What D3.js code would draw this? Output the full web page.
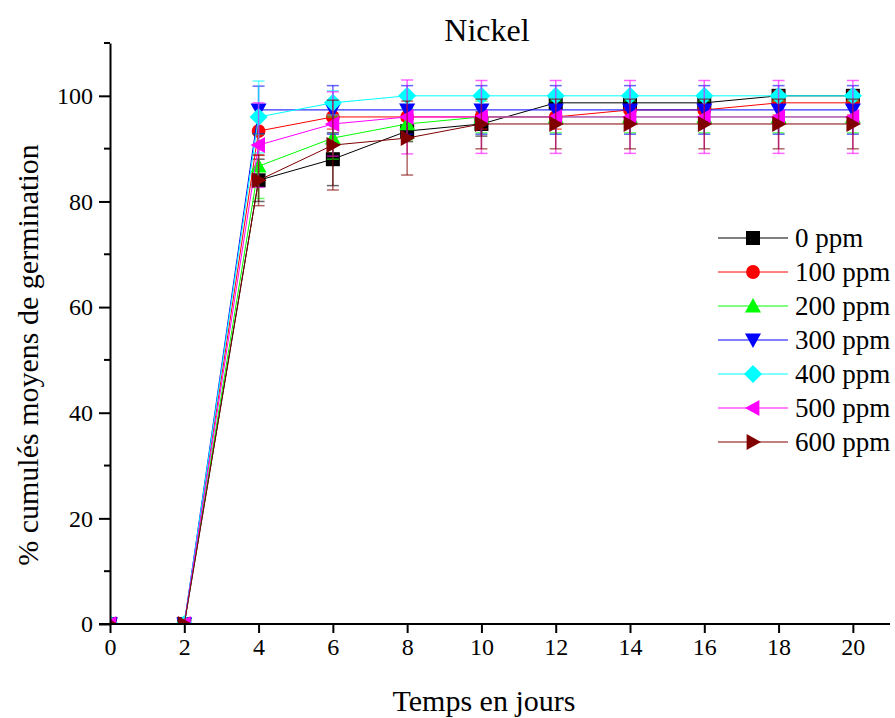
<!DOCTYPE html>
<html>
<head>
<meta charset="utf-8">
<script src="https://cdn.jsdelivr.net/npm/d3@7"></script>
<style>
  body { margin: 0; background: #fff; }
  text { font-family: "Liberation Serif", "Times New Roman", serif; }
</style>
</head>
<body>
<script>
// jours d'observation
var days = [0, 2, 4, 6, 8, 10, 12, 14, 16, 18, 20];

// concentrations en nickel
var labels = ["0 ppm", "100 ppm", "200 ppm", "300 ppm", "400 ppm", "500 ppm", "600 ppm"];
var colors = ["#000000", "#ff0000", "#00ff00", "#0000ff", "#00ffff", "#ff00ff", "#800000"];
var shapes = ["square", "circle", "up", "down", "diamond", "left", "right"];

// % cumulés moyens de germination
var ppm0   = [0, 0, 84,    88,    93.33, 94.67, 98.67, 98.67, 98.67, 100,   100];
var ppm100 = [0, 0, 93.33, 96,    96,    96,    96,    97.33, 97.33, 98.67, 98.67];
var ppm200 = [0, 0, 86.67, 92,    94.67, 96,    96,    96,    96,    96,    96];
var ppm300 = [0, 0, 97.33, 97.33, 97.33, 97.33, 97.33, 97.33, 97.33, 97.33, 97.33];
var ppm400 = [0, 0, 96,    98.67, 100,   100,   100,   100,   100,   100,   100];
var ppm500 = [0, 0, 90.67, 94.67, 96,    96,    96,    96,    96,    96,    96];
var ppm600 = [0, 0, 84,    90.67, 92,    94.67, 94.67, 94.67, 94.67, 94.67, 94.67];

// écarts-types (barres d'erreur)
var err0   = [0, 0, 4,   5,   2,   2.3, 1.3, 1.3, 1.3, 0,   0];
var err100 = [0, 0, 4.6, 2.3, 2.3, 2.3, 2.3, 2.3, 2.3, 2.3, 2.3];
var err200 = [0, 0, 6.1, 4,   3,   3,   3,   3,   3,   3,   3];
var err300 = [0, 0, 4.5, 4.6, 4.6, 4.6, 4.6, 4.6, 4.6, 4.6, 4.6];
var err400 = [0, 0, 6.8, 2.3, 0,   0,   0,   0,   0,   0,   0];
var err500 = [0, 0, 8,   6.1, 7,   6.9, 6.9, 6.9, 6.9, 6.9, 6.9];
var err600 = [0, 0, 4.8, 8.5, 7,   4.7, 4.7, 4.7, 4.7, 4.7, 4.7];

var xTicks = [0, 2, 4, 6, 8, 10, 12, 14, 16, 18, 20];
var yTicks = [0, 20, 40, 60, 80, 100];
var yMinor = [10, 30, 50, 70, 90, 110];

var series = [ppm0, ppm100, ppm200, ppm300, ppm400, ppm500, ppm600];
var errors = [err0, err100, err200, err300, err400, err500, err600];

var W = 895, H = 718;
var margin = {top: 43, right: 5, bottom: 94, left: 110};
var FONT = "'Liberation Serif', 'Times New Roman', serif";

var x = d3.scaleLinear().domain([0, 21]).range([margin.left, W - margin.right]);
var y = d3.scaleLinear().domain([0, 110]).range([H - margin.bottom, margin.top]);

var svg = d3.select("body").append("svg")
    .attr("width", W)
    .attr("height", H)
    .attr("font-family", FONT);

svg.append("defs").append("clipPath").attr("id", "plot")
  .append("rect")
    .attr("x", margin.left).attr("y", margin.top - 20)
    .attr("width", W - margin.left).attr("height", y(0) - margin.top + 20);

// marker symbols
function symbolPath(shape) {
  var s = 8;
  switch (shape) {
    case "square": return "M-7,-7h14v14h-14z";
    case "circle": return d3.symbol(d3.symbolCircle, 150)();
    case "up": return "M0," + (-s) + "L" + s + "," + s * 0.8 + "L" + (-s) + "," + s * 0.8 + "Z";
    case "down": return "M0," + s + "L" + s + "," + (-s * 0.8) + "L" + (-s) + "," + (-s * 0.8) + "Z";
    case "diamond": return "M0," + (-s - 1) + "L" + (s + 1) + ",0L0," + (s + 1) + "L" + (-s - 1) + ",0Z";
    case "left": return "M" + (-s) + ",0L" + s * 0.8 + "," + (-s) + "L" + s * 0.8 + "," + s + "Z";
    case "right": return "M" + s + ",0L" + (-s * 0.8) + "," + (-s) + "L" + (-s * 0.8) + "," + s + "Z";
  }
}

var plot = svg.append("g").attr("clip-path", "url(#plot)");

var line = d3.line()
  .x(function(d) { return x(d[0]); })
  .y(function(d) { return y(d[1]); });

series.forEach(function(vals, k) {
  var pts = days.map(function(d, i) { return [d, vals[i], errors[k][i]]; });
  var g = plot.append("g");

  g.append("path")
    .datum(pts)
    .attr("fill", "none")
    .attr("stroke", colors[k])
    .attr("stroke-width", 1)
    .attr("d", line);

  // error bars
  var eb = g.selectAll(".eb").data(pts.filter(function(p) { return p[2] > 0; }))
    .enter().append("g")
    .attr("stroke", colors[k])
    .attr("stroke-opacity", 0.6)
    .attr("stroke-width", 1.5);
  eb.append("line")
    .attr("x1", function(p) { return x(p[0]); })
    .attr("x2", function(p) { return x(p[0]); })
    .attr("y1", function(p) { return y(p[1] - p[2]); })
    .attr("y2", function(p) { return y(p[1] + p[2]); });
  eb.append("line")
    .attr("x1", function(p) { return x(p[0]) - 6; })
    .attr("x2", function(p) { return x(p[0]) + 6; })
    .attr("y1", function(p) { return y(p[1] + p[2]); })
    .attr("y2", function(p) { return y(p[1] + p[2]); });
  eb.append("line")
    .attr("x1", function(p) { return x(p[0]) - 6; })
    .attr("x2", function(p) { return x(p[0]) + 6; })
    .attr("y1", function(p) { return y(p[1] - p[2]); })
    .attr("y2", function(p) { return y(p[1] - p[2]); });

  g.selectAll(".mk").data(pts)
    .enter().append("path")
    .attr("transform", function(p) { return "translate(" + x(p[0]) + "," + y(p[1]) + ")"; })
    .attr("d", symbolPath(shapes[k]))
    .attr("fill", colors[k]);
});

// axes
var xAxis = svg.append("g")
  .attr("transform", "translate(0," + y(0) + ")")
  .call(d3.axisBottom(x).tickValues(xTicks).tickSize(9).tickPadding(5).tickSizeOuter(0));
var yAxis = svg.append("g")
  .attr("transform", "translate(" + x(0) + ",0)")
  .call(d3.axisLeft(y).tickValues(yTicks).tickSize(11).tickPadding(6).tickSizeOuter(0));
yAxis.selectAll(".minor").data(yMinor).enter().append("line")
  .attr("class", "minor")
  .attr("x1", -6).attr("x2", 0)
  .attr("y1", function(d) { return y(d); })
  .attr("y2", function(d) { return y(d); })
  .attr("stroke", "#000").attr("stroke-width", 2);

[xAxis, yAxis].forEach(function(a) {
  a.attr("font-family", FONT);
  a.select(".domain").attr("stroke-width", 2);
  a.selectAll(".tick line").attr("stroke-width", 2);
  a.selectAll("text")
    .attr("font-size", 24)
    .attr("fill", "#000");
});
xAxis.select(".domain").attr("d", "M" + (x(0) - 11) + ",0H" + (W - margin.right));

// title and labels
svg.append("text")
  .attr("x", 487).attr("y", 41)
  .attr("text-anchor", "middle")
  .attr("font-size", 32)
  .text("Nickel");

svg.append("text")
  .attr("x", 484).attr("y", 711)
  .attr("text-anchor", "middle")
  .attr("font-size", 30)
  .text("Temps en jours");

svg.append("text")
  .attr("transform", "translate(38," + 355 + ") rotate(-90)")
  .attr("text-anchor", "middle")
  .attr("font-size", 30)
  .text("% cumulés moyens de germination");

// legend
var legend = svg.append("g").attr("transform", "translate(718,238)");
labels.forEach(function(lab, k) {
  var row = legend.append("g").attr("transform", "translate(0," + k * 34 + ")");
  row.append("line").attr("x1", 0).attr("x2", 70)
    .attr("stroke", colors[k]).attr("stroke-width", 1);
  row.append("path").attr("transform", "translate(35,0)")
    .attr("d", symbolPath(shapes[k])).attr("fill", colors[k]);
  row.append("text").attr("x", 77).attr("y", 9)
    .attr("font-size", 27).text(lab);
});
</script>
</body>
</html>
